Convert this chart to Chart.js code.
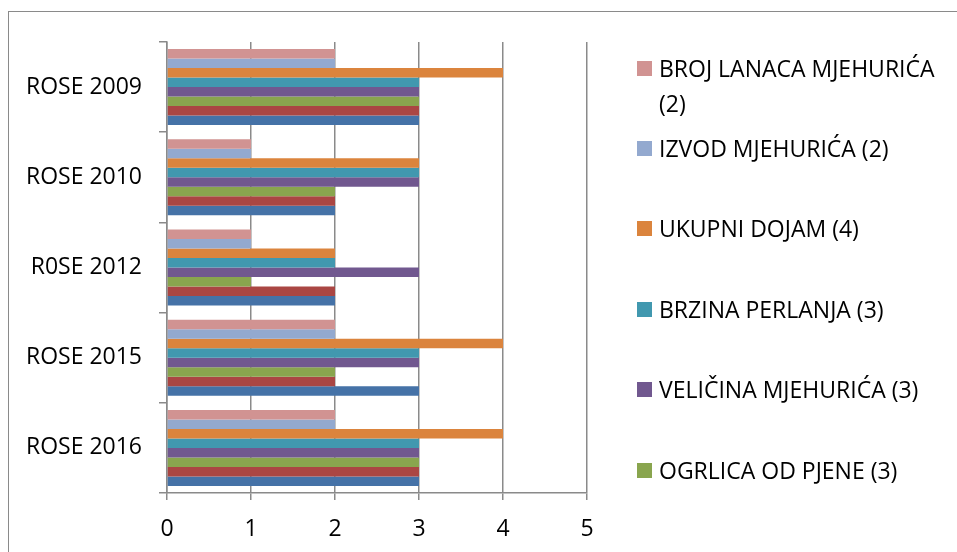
<!DOCTYPE html>
<html>
<head>
<meta charset="utf-8">
<script src="https://cdn.jsdelivr.net/npm/chart.js@4.4.0/dist/chart.umd.min.js"></script>
<style>
  html, body { margin: 0; padding: 0; background: #fff; overflow: hidden; }
  #wrap { position: relative; width: 957px; height: 552px; }
  #frame { position: absolute; left: 8px; top: 11px; width: 1000px; height: 600px; border: 1.5px solid #8a8a8a; }
  #chart { position: absolute; left: 0; top: 0; }
  #legend { position: absolute; left: 637px; top: 0; font-family: "Open Sans", sans-serif; font-size: 23px; color: #000; }
  .box { position: absolute; left: 0; width: 15px; height: 15px; }
  .txt { position: absolute; left: 22px; width: 292px; line-height: 35px; }
</style>
</head>
<body>
<div id="wrap">
  <div id="frame"></div>
  <canvas id="chart" width="957" height="552"></canvas>
  <div id="legend"></div>
</div>
<script>
const categories = ["ROSE 2009", "ROSE 2010", "R0SE 2012", "ROSE 2015", "ROSE 2016"];

// series in Excel order (first one sits at the bottom of each group)
const seriesNames = [
  "BISTROĆA (3)",
  "BOJA (3)",
  "OGRLICA OD PJENE (3)",
  "VELIČINA MJEHURIĆA (3)",
  "BRZINA PERLANJA (3)",
  "UKUPNI DOJAM (4)",
  "IZVOD MJEHURIĆA (2)",
  "BROJ LANACA MJEHURIĆA (2)"
];
const bistroca = [3, 2, 2, 3, 3];
const boja = [3, 2, 2, 2, 3];
const ogrlica = [3, 2, 1, 2, 3];
const velicina = [3, 3, 3, 3, 3];
const brzina = [3, 3, 2, 3, 3];
const ukupniDojam = [4, 3, 2, 4, 4];
const izvod = [2, 1, 1, 2, 2];
const brojLanaca = [2, 1, 1, 2, 2];

const xTicks = [0, 1, 2, 3, 4, 5];

const seriesValues = [bistroca, boja, ogrlica, velicina, brzina, ukupniDojam, izvod, brojLanaca];
const seriesColors = ["#4572A7", "#AA4643", "#89A54E", "#71588F", "#4198AF", "#DB843D", "#93A9CF", "#D19392"];
const legendShown = 6; // legend is cut off, only the last six are visible

Chart.defaults.font.family = "'Open Sans', sans-serif";
Chart.defaults.font.size = 23;
Chart.defaults.color = "#000";

// Chart.js puts dataset 0 at the top of a group, so feed them reversed
const datasets = seriesNames.map((name, i) => ({
  label: name,
  data: seriesValues[i],
  backgroundColor: seriesColors[i],
  borderWidth: 0
})).reverse();

const gridColor = "#8a8a8a";

new Chart(document.getElementById("chart"), {
  type: "bar",
  data: { labels: categories, datasets },
  options: {
    indexAxis: "y",
    responsive: false,
    animation: false,
    devicePixelRatio: 1,
    layout: { padding: { left: 0, top: 42, right: 370, bottom: 0 } },
    datasets: {
      bar: { categoryPercentage: 0.843, barPercentage: 1 }
    },
    plugins: {
      legend: { display: false },
      tooltip: { enabled: false }
    },
    scales: {
      x: {
        min: 0,
        max: 5,
        afterBuildTicks: scale => {
          scale.ticks = xTicks.map(v => ({ value: v }));
        },
        afterFit: scale => { scale.height = 59; },
        grid: { color: gridColor, lineWidth: 1.5, tickLength: 7, drawTicks: true },
        border: { color: gridColor, width: 1.5 },
        ticks: { padding: 16 }
      },
      y: {
        afterFit: scale => { scale.width = 167; },
        grid: { drawOnChartArea: false, color: gridColor, lineWidth: 1.5, tickLength: 8, offset: true },
        border: { color: gridColor, width: 1.5 },
        ticks: { padding: 17 }
      }
    }
  }
});

// legend, top entry is the last series
const legend = document.getElementById("legend");
const firstY = 68;
const stepY = 80.4;
for (let k = 0; k < legendShown; k++) {
  const i = seriesNames.length - 1 - k;
  const cy = firstY + k * stepY;
  const box = document.createElement("div");
  box.className = "box";
  box.style.top = (cy - 7.5) + "px";
  box.style.background = seriesColors[i];
  const txt = document.createElement("div");
  txt.className = "txt";
  txt.style.top = (cy - 17.5) + "px";
  txt.textContent = seriesNames[i];
  legend.appendChild(box);
  legend.appendChild(txt);
}
</script>
</body>
</html>
